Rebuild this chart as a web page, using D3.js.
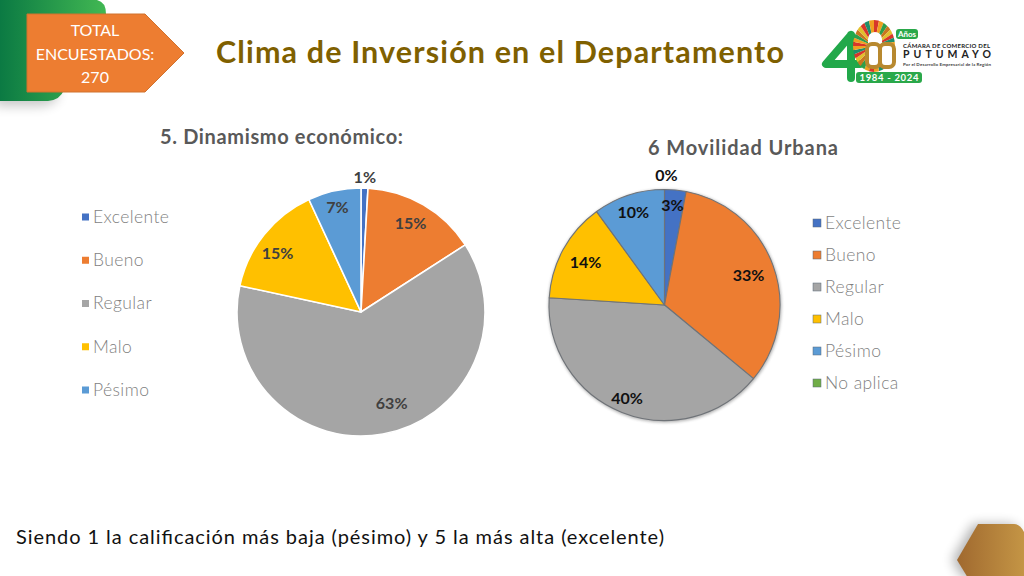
<!DOCTYPE html>
<html><head><meta charset="utf-8">
<script src="https://cdn.jsdelivr.net/npm/d3@7/dist/d3.min.js"></script>
<style>html,body{margin:0;padding:0;background:#fff}svg{display:block}text{font-family:Lato,"Open Sans",sans-serif}</style>
</head><body><svg id="c" width="1024" height="576"></svg>
<script>
const mainTitle = "Clima de Inversión en el Departamento";
const badgeLines = ["TOTAL","ENCUESTADOS:","270"];
const footnote = "Siendo 1 la calificación más baja (pésimo) y 5 la más alta (excelente)";
const title1 = "5. Dinamismo económico:";
const cats1 = ["Excelente","Bueno","Regular","Malo","Pésimo"];
const vals1 = [0.9,15.0,62.5,14.7,6.9];
const colors1 = ["#4472c4","#ed7d31","#a5a5a5","#ffc000","#5b9bd5"];
const title2 = "6 Movilidad Urbana";
const cats2 = ["Excelente","Bueno","Regular","Malo","Pésimo","No aplica"];
const vals2 = [3,33,40,14,10,0];
const colors2 = ["#4472c4","#ed7d31","#a5a5a5","#ffc000","#5b9bd5","#70ad47"];

const svg = d3.select("#c");
const defs = svg.append("defs");
function grad(id,stops){const g=defs.append("linearGradient").attr("id",id);stops.forEach(s=>g.append("stop").attr("offset",s[0]).attr("stop-color",s[1]));}
grad("gGreen",[[0,"#0b7a43"],[1,"#42b853"]]);
grad("gGold",[[0,"#a0692f"],[1,"#c49545"]]);
const blur=defs.append("filter").attr("id","soft").attr("x","-30%").attr("y","-30%").attr("width","160%").attr("height","160%");
blur.append("feGaussianBlur").attr("stdDeviation",6);
const blur2=defs.append("filter").attr("id","soft2").attr("x","-10%").attr("y","-10%").attr("width","120%").attr("height","120%");
blur2.append("feGaussianBlur").attr("stdDeviation",1.5);

// top-left green tab
svg.append("path").attr("d","M-5,20 H50 L58,98 Q50,106 40,106 H-5Z").attr("fill","#000").attr("opacity",.22).attr("filter","url(#soft)");
svg.append("path").attr("d","M0,0 H97 Q106,2 106,14 V40 L64,90 Q60,100 48,101 H0Z").attr("fill","url(#gGreen)");
// badge
svg.append("path").attr("d","M27,14 H145 L184,53 L145,92 H27Z").attr("fill","#ed7d31").attr("stroke","#d0722f").attr("stroke-width",1);
svg.append("g").selectAll("text").data(badgeLines).join("text")
  .attr("x",95).attr("y",(d,i)=>36+i*23.5).attr("text-anchor","middle").attr("fill","#fff")
  .attr("font-size",16).text(d=>d);
// main title
svg.append("text").attr("x",216).attr("y",63).attr("fill","#7f6000").attr("font-size",30.5).attr("font-weight",700).attr("textLength",568).attr("lengthAdjust","spacing").text(mainTitle);
// footnote
svg.append("text").attr("x",16).attr("y",544).attr("fill","#111").attr("font-size",20).attr("textLength",648).attr("lengthAdjust","spacing").text(footnote);
// bottom-right hexagon
const hex="M978,524 H1014 Q1020,524 1024,532 V578 H968 L957,560 Z";
svg.append("path").attr("d",hex).attr("fill","#000").attr("opacity",.3).attr("transform","translate(-5,0)").attr("filter","url(#soft)");
svg.append("path").attr("d",hex).attr("fill","url(#gGold)");

function pieChart(o){
  const pie=d3.pie().sort(null).value(d=>d)(o.vals);
  const arc=d3.arc().innerRadius(0).outerRadius(o.r);
  const g=svg.append("g").attr("transform",`translate(${o.cx},${o.cy})`);
  if(o.bevel){
    g.append("circle").attr("r",o.r+1).attr("cx",0.5).attr("cy",1).attr("fill","#555").attr("opacity",.45).attr("filter","url(#soft2)");
  }
  g.selectAll("path.s").data(pie).join("path").attr("class","s").attr("d",arc)
    .attr("fill",(d,i)=>o.colors[i]).attr("stroke",o.bevel?"#6f7378":"#fff").attr("stroke-width",o.bevel?1.1:1.6).attr("stroke-linejoin","round");
  g.selectAll("text").data(pie).join("text")
    .attr("transform",(d,i)=>{const a=(d.startAngle+d.endAngle)/2,rr=o.r*o.labelR[i],n=o.nudge[i];return `translate(${Math.sin(a)*rr+n[0]},${-Math.cos(a)*rr+n[1]})`;})
    .attr("text-anchor","middle").attr("dy","0.36em").attr("fill",o.labelColor).attr("font-size",16).attr("font-weight",o.labelWeight)
    .text(d=>Math.round(d.data)+"%");
  svg.append("text").attr("x",o.tx).attr("y",o.ty).attr("fill","#595959").attr("font-size",o.tsize).attr("font-weight",700).attr("textLength",o.tlen).attr("lengthAdjust","spacing").text(o.title);
  const y=d3.scalePoint().domain(o.cats).range(o.legendY);
  const lg=svg.append("g").selectAll("g").data(o.cats).join("g").attr("transform",d=>`translate(${o.legendX},${y(d)})`);
  lg.append("rect").attr("x",0).attr("y",-o.sq/2).attr("width",o.sq).attr("height",o.sq).attr("fill",(d,i)=>o.colors[i]).attr("stroke",o.bevel?"#5a6a7a":"none").attr("stroke-width",.5);
  lg.append("text").attr("x",o.sq+o.gap).attr("dy","0.33em").attr("fill","#7f7f7f").attr("font-size",17.5).attr("font-weight",300).style("letter-spacing","0.4px").text(d=>d);
}
pieChart({vals:vals1,cats:cats1,colors:colors1,cx:361,cy:312,r:124,title:title1,tx:160,ty:144,tsize:20,tlen:243,
  legendX:82,legendY:[217,390],sq:7,gap:4,labelR:[1.09,0.81,0.80,0.81,0.81],nudge:[[0,0],[-1,-2],[13,-6],[-5,4],[-2,-7]],labelColor:"#404040",labelWeight:700});
pieChart({vals:vals2,cats:cats2,colors:colors2,cx:664.5,cy:305,r:115.5,title:title2,tx:648,ty:155,tsize:20,tlen:190,
  legendX:813,legendY:[223,383],sq:8,gap:4,labelR:[0.82,0.81,0.81,0.81,0.82,1.12],nudge:[[-1,-5],[-4,2],[-3,6],[3,2],[-2,-3],[2,0]],labelColor:"#111",labelWeight:700,bevel:true});

// logo
const L=svg.append("g").attr("id","logo");
L.append("path").attr("d","M851,35 L826,64 H860 M851,35 V78").attr("fill","none").attr("stroke","#22a84a").attr("stroke-width",8).attr("stroke-linejoin","round").attr("stroke-linecap","round");
const ringColors=["#d8362a","#f0a020","#2f9e4a","#c9761f","#e2c02c","#d8362a","#1f8f6a","#f0a020"];
const rays=d3.range(32);
const ray=d3.arc().innerRadius(0).outerRadius(40);
defs.append("clipPath").attr("id","oval").append("ellipse").attr("cx",874).attr("cy",46).attr("rx",21).attr("ry",26);
L.append("g").attr("clip-path","url(#oval)").append("g").attr("transform","translate(874,46)").selectAll("path").data(rays).join("path")
  .attr("d",i=>ray({startAngle:i*Math.PI/16,endAngle:(i+1)*Math.PI/16})).attr("fill",i=>ringColors[i%8]);
L.append("rect").attr("x",868).attr("y",32).attr("width",14).attr("height",28).attr("rx",7).attr("fill","#fff");
L.append("rect").attr("x",867).attr("y",44).attr("width",13).attr("height",23).attr("rx",5).attr("fill","#fff").attr("stroke","#b8892f").attr("stroke-width",4);
L.append("rect").attr("x",880).attr("y",44).attr("width",14).attr("height",23).attr("rx",5).attr("fill","#fff").attr("stroke","#b8892f").attr("stroke-width",4);
L.append("rect").attr("x",896).attr("y",29).attr("width",22).attr("height",10).attr("rx",3).attr("fill","#2aa84a");
L.append("text").attr("x",907).attr("y",37).attr("text-anchor","middle").attr("fill","#fff").attr("font-size",8).attr("font-weight",700).text("Años");
L.append("rect").attr("x",856).attr("y",72).attr("width",66).attr("height",11).attr("rx",3).attr("fill","#2aa84a");
L.append("text").attr("x",889).attr("y",81).attr("text-anchor","middle").attr("fill","#fff").attr("font-size",9.5).attr("font-weight",700).attr("textLength",59).text("1984 - 2024");
L.append("text").attr("x",903).attr("y",48).attr("fill","#222").attr("font-size",6).attr("font-weight",700).attr("textLength",87).text("CÁMARA DE COMERCIO DEL");
L.append("text").attr("x",903).attr("y",58).attr("fill","#222").attr("font-size",10.5).attr("font-weight",700).attr("textLength",88).text("PUTUMAYO");
L.append("text").attr("x",903).attr("y",65.5).attr("fill","#444").attr("font-size",4.5).attr("font-weight",700).attr("textLength",88).text("Por el Desarrollo Empresarial de la Región");
</script></body></html>
